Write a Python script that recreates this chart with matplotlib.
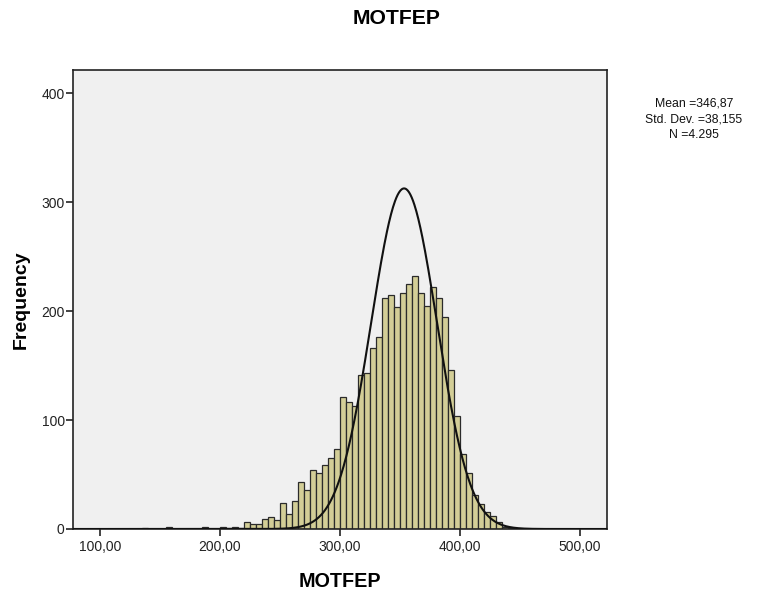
import numpy as np
import matplotlib
matplotlib.use("Agg")
import matplotlib.pyplot as plt

plt.rcParams['font.family'] = ['Liberation Sans', 'DejaVu Sans']

# Histogram data (bin left edges, width 5) and counts
bin_width = 5
bin_lefts = [135, 155, 185, 200, 205, 210, 215,
             220, 225, 230, 235, 240, 245, 250, 255, 260, 265, 270, 275, 280, 285, 290, 295,
             300, 305, 310, 315, 320, 325, 330, 335, 340, 345,
             350, 355, 360, 365, 370, 375, 380, 385, 390, 395,
             400, 405, 410, 415, 420, 425, 430, 435, 440]
counts = [1, 2, 2, 2, 1, 2, 1,
          6, 5, 5, 9, 11, 8, 24, 14, 26, 43, 36, 54, 51, 59, 65, 73,
          121, 117, 113, 141, 143, 166, 176, 212, 215, 204,
          217, 225, 232, 217, 205, 222, 212, 195, 146, 104,
          69, 51, 31, 23, 16, 12, 6, 2, 1]

# Normal curve as drawn in the reference
n_total = 4295
curve_mean = 353.4
curve_sd = 27.4

stats_lines = ["Mean =346,87", "Std. Dev. =38,155", "N =4.295"]
x_ticks = [100, 200, 300, 400, 500]
x_tick_labels = ["100,00", "200,00", "300,00", "400,00", "500,00"]
y_ticks = [0, 100, 200, 300, 400]

W, H = 763, 592
fig = plt.figure(figsize=(W / 100, H / 100), dpi=100)
ax = fig.add_axes([73 / W, 1 - 529 / H, (607 - 73) / W, (529 - 70) / H])
ax.set_facecolor('#f0f0f0')

ax.bar(bin_lefts, counts, width=bin_width, align='edge',
       color='#d3ce97', edgecolor='#2b2b2b', linewidth=0.9, zorder=2)

xs = np.linspace(78, 522, 800)
ys = n_total * bin_width / (curve_sd * np.sqrt(2 * np.pi)) * np.exp(-0.5 * ((xs - curve_mean) / curve_sd) ** 2)
ax.plot(xs, ys, color='#111111', linewidth=1.5, zorder=3)

ax.set_xlim(77.5, 522.5)
ax.set_ylim(0, 421.4)
ax.set_xticks(x_ticks)
ax.set_xticklabels(x_tick_labels)
ax.set_yticks(y_ticks)
ax.tick_params(axis='both', direction='out', length=5, width=1.2, colors='#222222',
               labelsize=10, labelcolor='#222222')
ax.tick_params(axis='y', pad=1)
ax.tick_params(axis='x', pad=3)
for s in ax.spines.values():
    s.set_linewidth(1.2)
    s.set_color('#222222')

ax.set_xlabel("MOTFEP", fontsize=14.2, fontweight='bold', labelpad=13)
ax.set_ylabel("Frequency", fontsize=14, fontweight='bold', labelpad=8)

fig.text(397 / W, 1 - 18 / H, "MOTFEP", ha='center', va='center',
         fontsize=15.2, fontweight='bold')

for i, line in enumerate(stats_lines):
    fig.text(694 / W, 1 - (104 + 15.5 * i) / H, line, ha='center', va='center',
             fontsize=8.8, color='#111111')

fig.savefig("out.png", dpi=100)
